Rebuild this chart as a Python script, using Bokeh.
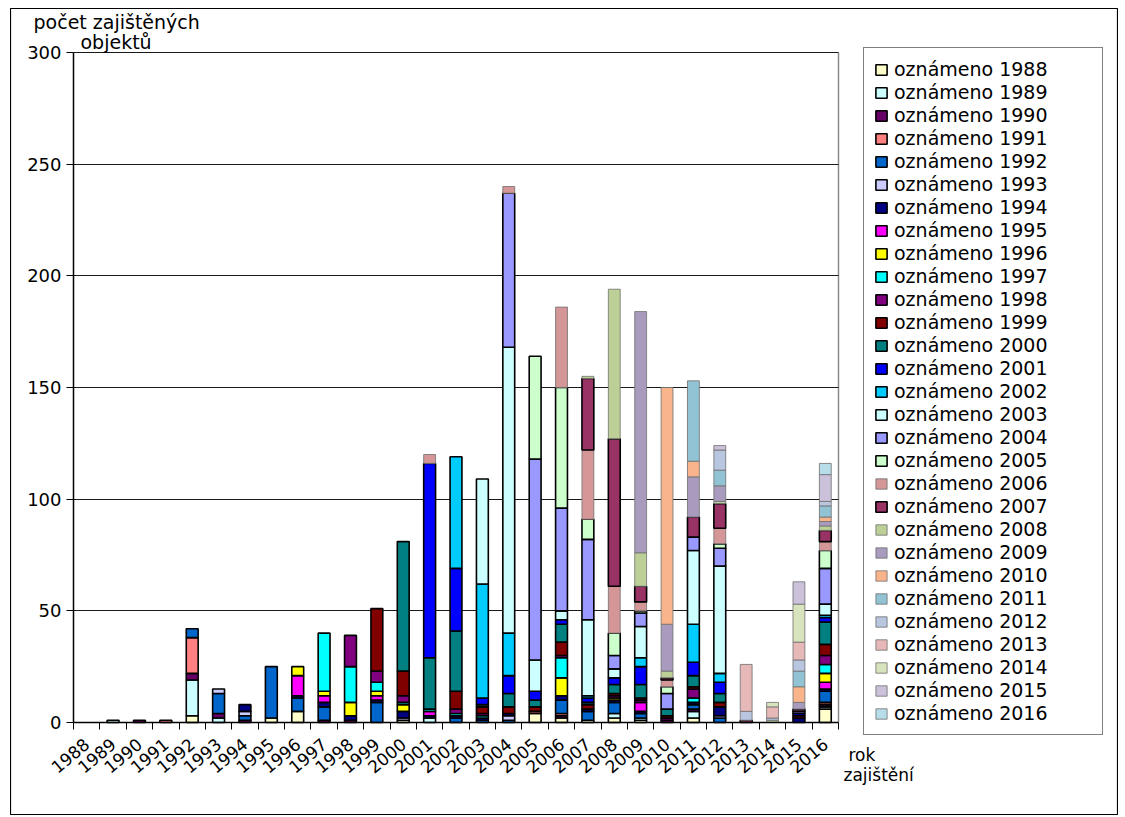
import numpy as np
from bokeh.plotting import figure
from bokeh.models import ColumnDataSource, Legend, LegendItem, FixedTicker, Range1d, Label
from bokeh.embed import file_html
from bokeh.resources import INLINE

# found years (x categories)
years = list(range(1988, 2017))
y_ticks = [0, 50, 100, 150, 200, 250, 300]

# number of secured objects per found year, one list per "reported" year
r1988 = [0,0,0,0,3, 0,0,2,5,0, 0,0,1,0,0, 0,0,4,2,1, 2,1,0,2,0, 0,0,0,6]
r1989 = [0,1,0,0,16, 2,0,0,0,0, 0,0,0,2,0, 0,0,0,0,0, 2,1,0,3,0, 0,0,0,1]
r1990 = [0,0,1,0,3, 2,1,0,0,1, 1,0,0,0,0, 0,0,0,1,0, 0,0,1,1,0, 0,0,0,1]
r1991 = [0,0,0,1,16, 0,0,0,0,0, 0,0,0,0,0, 0,0,1,1,0, 0,0,0,0,0, 0,0,0,1]
r1992 = [0,0,0,0,4, 9,2,23,6,6, 0,9,0,0,2, 1,1,0,6,4, 5,2,0,2,2, 0,0,0,5]
r1993 = [0,0,0,0,0, 2,2,0,0,0, 0,0,1,0,0, 0,2,0,0,0, 0,0,0,0,1, 0,0,0,0]
r1994 = [0,0,0,0,0, 0,3,0,1,2, 2,1,3,1,1, 1,1,0,2,1, 1,1,0,1,4, 0,0,2,1]
r1995 = [0,0,0,0,0, 0,0,0,9,3, 0,2,0,2,0, 0,0,0,0,0, 0,4,0,0,0, 0,0,0,3]
r1996 = [0,0,0,0,0, 0,0,0,4,2, 6,2,3,0,0, 0,0,0,8,0, 1,0,0,0,0, 0,0,0,4]
r1997 = [0,0,0,0,0, 0,0,0,0,26, 16,4,1,1,1, 1,0,0,9,0, 0,0,0,2,0, 0,0,0,4]
r1998 = [0,0,0,0,0, 0,0,0,0,0, 14,5,3,0,2, 1,0,0,1,0, 1,1,1,4,0, 0,0,0,4]
r1999 = [0,0,0,0,0, 0,0,0,0,0, 0,28,11,0,8, 3,3,2,6,2, 1,1,1,1,2, 0,0,1,5]
r2000 = [0,0,0,0,0, 0,0,0,0,0, 0,0,58,23,27, 1,6,3,8,1, 4,6,3,5,4, 0,0,0,10]
r2001 = [0,0,0,0,0, 0,0,0,0,0, 0,0,0,87,28, 3,8,4,2,2, 3,8,0,6,5, 0,0,1,2]
r2002 = [0,0,0,0,0, 0,0,0,0,0, 0,0,0,0,50, 51,19,0,0,1, 0,4,0,17,4, 0,0,0,1]
r2003 = [0,0,0,0,0, 0,0,0,0,0, 0,0,0,0,0, 47,128,14,4,34, 4,14,0,33,48, 0,0,0,5]
r2004 = [0,0,0,0,0, 0,0,0,0,0, 0,0,0,0,0, 0,69,90,46,36, 6,6,7,6,8, 0,0,1,16]
r2005 = [0,0,0,0,0, 0,0,0,0,0, 0,0,0,0,0, 0,0,46,54,9, 10,1,3,0,2, 0,0,0,8]
r2006 = [0,0,0,0,0, 0,0,0,0,0, 0,0,0,4,0, 0,3,0,36,31, 21,4,3,0,7, 0,0,0,4]
r2007 = [0,0,0,0,0, 0,0,0,0,0, 0,0,0,0,0, 0,0,0,0,32, 66,7,1,9,11, 1,0,1,5]
r2008 = [0,0,0,0,0, 0,0,0,0,0, 0,0,0,0,0, 0,0,0,0,1, 67,15,3,0,1, 0,1,0,2]
r2009 = [0,0,0,0,0, 0,0,0,0,0, 0,0,0,0,0, 0,0,0,0,0, 0,108,21,18,7, 0,0,3,2]
r2010 = [0,0,0,0,0, 0,0,0,0,0, 0,0,0,0,0, 0,0,0,0,0, 0,0,106,7,0, 0,0,7,2]
r2011 = [0,0,0,0,0, 0,0,0,0,0, 0,0,0,0,0, 0,0,0,0,0, 0,0,0,36,7, 0,0,7,5]
r2012 = [0,0,0,0,0, 0,0,0,0,0, 0,0,0,0,0, 0,0,0,0,0, 0,0,0,0,9, 4,1,5,2]
r2013 = [0,0,0,0,0, 0,0,0,0,0, 0,0,0,0,0, 0,0,0,0,0, 0,0,0,0,0, 21,5,8,0]
r2014 = [0,0,0,0,0, 0,0,0,0,0, 0,0,0,0,0, 0,0,0,0,0, 0,0,0,0,0, 0,2,17,0]
r2015 = [0,0,0,0,0, 0,0,0,0,0, 0,0,0,0,0, 0,0,0,0,0, 0,0,0,0,2, 0,0,10,12]
r2016 = [0,0,0,0,0, 0,0,0,0,0, 0,0,0,0,0, 0,0,0,0,0, 0,0,0,0,0, 0,0,0,5]

series = [r1988, r1989, r1990, r1991, r1992, r1993, r1994, r1995, r1996, r1997,
          r1998, r1999, r2000, r2001, r2002, r2003, r2004, r2005, r2006, r2007,
          r2008, r2009, r2010, r2011, r2012, r2013, r2014, r2015, r2016]
series_names = ["oznámeno %d" % y for y in years]

colors = ["#FFFFCC", "#CCFFFF", "#660066", "#FF8080", "#0066CC", "#CCCCFF", "#000080",
          "#FF00FF", "#FFFF00", "#00FFFF", "#800080", "#800000", "#008080", "#0000FF",
          "#00CCFF", "#CCFFFF", "#9999FF", "#CCFFCC", "#D49696", "#993366", "#BBCF96",
          "#A99BBD", "#F9B48C", "#92C3D4", "#B9C6E0", "#E6B9B8", "#D7E4BD", "#CCC1DA",
          "#B7DDE8"]
thin_outline = {2006, 2008, 2009, 2010, 2011, 2012, 2013, 2014, 2015, 2016}

FONT = "DejaVu Sans"

# canvas placement on the page (left/top offset of the figure's frame line)
OFF_X, OFF_Y = 10, 8
W, H = 1118 - OFF_X, 815 - OFF_Y
# plot area in page pixels -> canvas pixels
PX_L, PX_R, PX_T, PX_B = 73 - OFF_X, 838 - OFF_X, 52 - OFF_Y, 722 - OFF_Y
X0, X1 = years[0] - 0.5, years[-1] + 0.5
Y0, Y1 = 0, 300
sx = (PX_R - PX_L) / (X1 - X0)
sy = (PX_B - PX_T) / (Y1 - Y0)
x_range = Range1d(X0 - PX_L / sx, X1 + (W - PX_R) / sx)
y_range = Range1d(Y0 - (H - PX_B) / sy, Y1 + PX_T / sy)

p = figure(width=W, height=H, output_backend="svg", toolbar_location=None,
           x_range=x_range, y_range=y_range,
           min_border_left=0, min_border_top=0, min_border_bottom=0, min_border_right=0)
p.margin = (OFF_Y, 0, 0, OFF_X)
p.background_fill_color = "white"
p.border_fill_color = "white"
p.outline_line_color = "black"
p.outline_line_width = 1.2

x_arr = np.array(years, dtype=float)
base = np.zeros(len(years))
items = []
for k, vals in enumerate(series):
    v = np.array(vals, dtype=float)
    bottom = base.copy()
    top = base + v
    base = top
    m = v > 0
    src = ColumnDataSource(dict(x=x_arr[m], bottom=bottom[m], top=top[m]))
    yr = years[k]
    if yr in thin_outline:
        lc, lw = "#6e6e6e", 0.8
    else:
        lc, lw = "black", 1.6
    r = p.vbar(x="x", bottom="bottom", top="top", width=0.45, source=src,
               fill_color=colors[k], line_color=lc, line_width=lw)
    items.append(LegendItem(label=series_names[k], renderers=[r]))

legend = Legend(items=items, location=(863 - OFF_X, H - (735 - OFF_Y)))
legend.label_text_font = FONT
legend.label_text_font_size = "19px"
legend.label_text_color = "black"
legend.label_height = 22
legend.label_width = 198
legend.glyph_height = 13
legend.glyph_width = 14
legend.label_standoff = 6
legend.spacing = 1
legend.padding = 10
legend.margin = 0
legend.border_line_color = "black"
legend.border_line_width = 1.2
legend.background_fill_color = "white"
p.add_layout(legend, "center")

# axes fixed at the plot area's edges
p.xaxis.fixed_location = Y0
p.xaxis.bounds = (X0, X1)
p.xaxis.ticker = FixedTicker(ticks=years, minor_ticks=[y - 0.5 for y in years] + [X1])
p.xaxis.major_label_orientation = 0.7
p.xaxis.major_tick_out = 0
p.xaxis.major_tick_in = 0
p.xaxis.minor_tick_line_color = "black"
p.xaxis.minor_tick_out = 7
p.xaxis.minor_tick_in = 0
p.xaxis.axis_line_color = "black"
p.xaxis.axis_line_width = 1.5
p.xaxis.major_label_text_font = FONT
p.xaxis.major_label_text_font_size = "17px"
p.xaxis.major_label_text_color = "black"
p.xaxis.major_label_standoff = 12

p.yaxis.fixed_location = X0
p.yaxis.bounds = (Y0, Y1)
p.yaxis.ticker = FixedTicker(ticks=y_ticks, minor_ticks=[])
p.yaxis.major_tick_out = 7
p.yaxis.major_tick_in = 0
p.yaxis.axis_line_color = "black"
p.yaxis.axis_line_width = 1.5
p.yaxis.major_label_text_font = FONT
p.yaxis.major_label_text_font_size = "18px"
p.yaxis.major_label_text_color = "black"
p.yaxis.major_label_standoff = 5

ygrid = p.ygrid[0]
xgrid = p.xgrid[0]
ygrid.ticker = FixedTicker(ticks=y_ticks[1:])
ygrid.grid_line_color = "#1a1a1a"
ygrid.grid_line_width = 1.2
xgrid.ticker = FixedTicker(ticks=[X1])
xgrid.grid_line_color = "#8a8a8a"
xgrid.grid_line_width = 1.5
if "cross_bounds" in ygrid.properties():
    ygrid.cross_bounds = (X0, X1)
    xgrid.cross_bounds = (Y0, Y1)
else:
    xgrid.visible = False
    ygrid.visible = False
    p.yaxis.major_tick_in = PX_R - PX_L

def add_text(txt, x, y, size="19px"):
    # x, y: page pixels of the text's left end and baseline
    p.add_layout(Label(x=x - OFF_X, y=H - (y - OFF_Y), x_units="screen", y_units="screen",
                       text=txt, text_font=FONT, text_font_size=size, text_color="black",
                       text_baseline="alphabetic"))

add_text("počet  zajištěných", 33, 21)
add_text("objektů", 80, 41)
add_text("rok", 848, 754, "17px")
add_text("zajištění", 843, 774, "17px")

open("out.html", "w").write(file_html(p, INLINE))
